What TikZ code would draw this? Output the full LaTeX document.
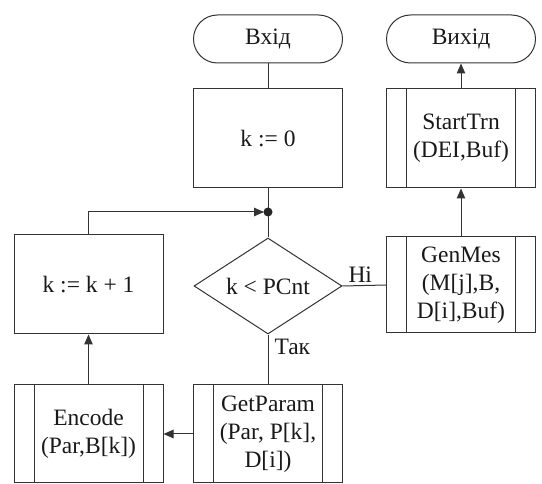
\documentclass[tikz,border=0pt]{standalone}
\usepackage{fontspec}
\setmainfont{Liberation Serif}
\usetikzlibrary{shapes.geometric,arrows.meta}
\begin{document}
\begin{tikzpicture}[x=1pt,y=-1pt,
  font=\rmfamily\fontsize{23.5}{28}\selectfont,
  line/.style={draw=black!80, line width=1pt},
  block/.style={line, rectangle, minimum width=149pt, minimum height=99pt,
    inner sep=0pt, align=center, text=black!90},
  sub/.style={block, path picture={
    \draw[line] ([xshift=20pt]path picture bounding box.north west) --
                ([xshift=20pt]path picture bounding box.south west);
    \draw[line] ([xshift=-20pt]path picture bounding box.north east) --
                ([xshift=-20pt]path picture bounding box.south east);}},
  terminal/.style={line, rectangle, rounded corners=24pt, minimum width=149pt,
    minimum height=48pt, inner sep=0pt, text=black!90},
  decision/.style={line, diamond, aspect=1.54, minimum width=148pt,
    minimum height=96pt, inner sep=0pt, text=black!90},
  arr/.style={line, -{Triangle[length=10pt,width=8.5pt]}},
  lbl/.style={text=black!90, inner sep=2pt}]
\useasboundingbox (0,0) rectangle (542,484);

% left column: loop body
\node[block] (inc) at (88.5,284.5) {k := k + 1};
\node[sub, minimum height=98pt] (enc) at (88.5,434) {Encode\\(Par,B[k])};

% middle column: main flow
\node[terminal] (start) at (268,39) {Вхід};
\node[block] (init) at (268,138.5) {k := 0};
\coordinate (dot) at (268,212);
\node[decision] (cond) at (268,286) {k < PCnt};
\node[sub, minimum height=98pt] (getp) at (268,434) {GetParam\\(Par, P[k],\\D[i])};

% right column: output
\node[terminal] (fin) at (461,39) {Вихід};
\node[sub] (strt) at (461,138.5) {StartTrn\\(DEI,Buf)};
\node[sub, minimum height=96pt] (genm) at (461,285) {GenMes\\(M[j],B,\\D[i],Buf)};

% connectors
\draw[line] (start) -- (init);
\draw[line] (init) -- (cond);
\fill[black!85] (dot) circle (4.5pt);
\draw[line] (cond) -- (getp) node[lbl, pos=0.25, right, xshift=4pt] {Так};
\draw[arr] (getp) -- (enc);
\draw[arr] (enc) -- (inc);
\draw[arr, shorten >=4pt] (inc.north) |- (dot);
\draw[line] (cond.east) -- (genm.west) node[lbl, midway, above, xshift=-4pt] {Ні};
\draw[arr] (genm) -- (strt);
\draw[arr] (strt) -- (fin);
\end{tikzpicture}
\end{document}
